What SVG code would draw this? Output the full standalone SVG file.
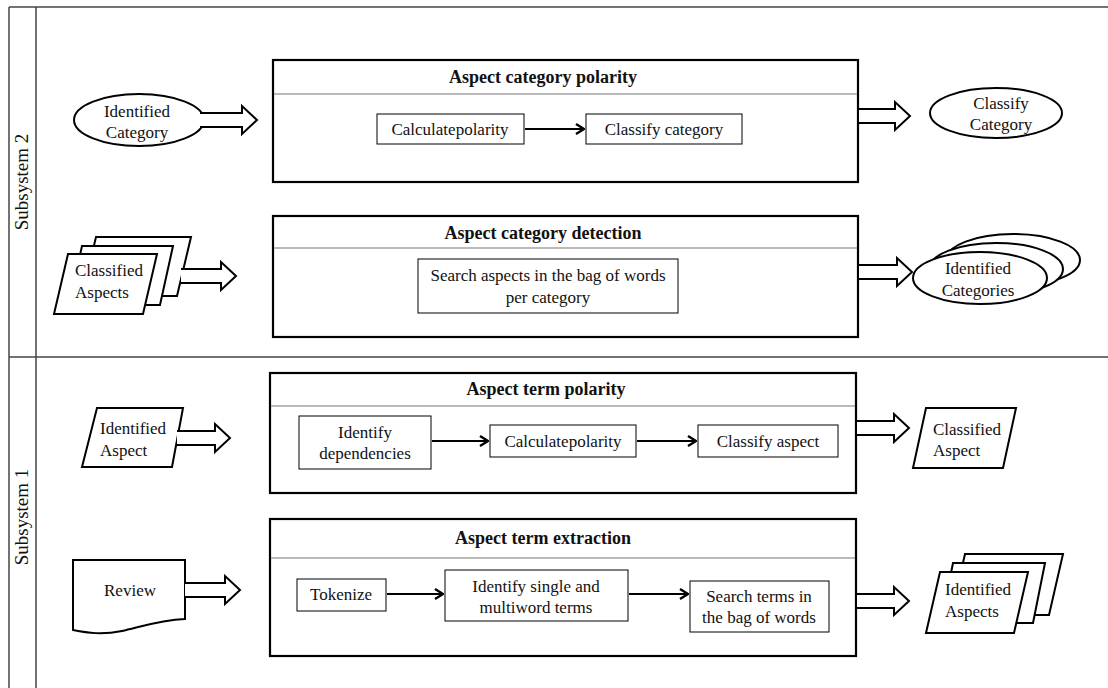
<svg xmlns="http://www.w3.org/2000/svg" width="1108" height="688" viewBox="0 0 1108 688">
<defs>
<style>
.frame{stroke:#444;stroke-width:1.5;fill:none}
.box{fill:#fff;stroke:#000;stroke-width:2.2}
.div{stroke:#777;stroke-width:1.2}
.inner{fill:#fff;stroke:#000;stroke-width:1}
.shape{fill:#fff;stroke:#000;stroke-width:2}
.blk{fill:#fff;stroke:#000;stroke-width:2;stroke-linejoin:miter}
.arr{stroke:#000;stroke-width:2.2;fill:none}
text{font-family:"Liberation Serif","Times New Roman",serif;fill:#111}
.t{font-size:17px;text-anchor:middle}
.ts{font-size:17px}
.h{font-size:18px;font-weight:bold;text-anchor:middle}
.lab{font-size:19px;text-anchor:middle}
</style>
<marker id="ah" viewBox="0 0 12 12" refX="11" refY="6" markerWidth="12" markerHeight="12" markerUnits="userSpaceOnUse" orient="auto">
<path d="M3,1 L11,6 L3,11" fill="none" stroke="#000" stroke-width="2.4"/>
</marker>
</defs>
<g id="frame">
<line class="frame" x1="9" y1="7" x2="1108" y2="7"/>
<line class="frame" x1="9" y1="7" x2="9" y2="688"/>
<line class="frame" x1="36" y1="7" x2="36" y2="688"/>
<line class="frame" x1="9" y1="357" x2="1108" y2="357"/>
<text class="lab" transform="translate(28,182) rotate(-90)">Subsystem 2</text>
<text class="lab" transform="translate(28,517) rotate(-90)">Subsystem 1</text>
</g>
<g id="acp">
<rect class="box" x="273" y="60" width="585" height="122"/>
<line class="div" x1="274" y1="94" x2="857" y2="94"/>
<text class="h" x="543" y="83">Aspect category polarity</text>
<rect class="inner" x="377" y="114" width="147" height="30"/>
<text class="t" x="450" y="135">Calculatepolarity</text>
<rect class="inner" x="586" y="114" width="156" height="30"/>
<text class="t" x="664" y="135">Classify category</text>
</g>
<g id="acd">
<rect class="box" x="273" y="216" width="585" height="121"/>
<line class="div" x1="274" y1="248" x2="857" y2="248"/>
<text class="h" x="543" y="239">Aspect category detection</text>
<rect class="inner" x="418" y="259" width="260" height="54"/>
<text class="t" x="548" y="281">Search aspects in the bag of words</text>
<text class="t" x="548" y="303">per category</text>
</g>
<g id="atp">
<rect class="box" x="270" y="373" width="586" height="120"/>
<line class="div" x1="271" y1="406" x2="855" y2="406"/>
<text class="h" x="546" y="395">Aspect term polarity</text>
<rect class="inner" x="299" y="416" width="132" height="53"/>
<text class="t" x="365" y="438">Identify</text>
<text class="t" x="365" y="459">dependencies</text>
<rect class="inner" x="490" y="425" width="146" height="32"/>
<text class="t" x="563" y="447">Calculatepolarity</text>
<rect class="inner" x="698" y="425" width="140" height="32"/>
<text class="t" x="768" y="447">Classify aspect</text>
</g>
<g id="ate">
<rect class="box" x="270" y="519" width="586" height="137"/>
<line class="div" x1="271" y1="558" x2="855" y2="558"/>
<text class="h" x="543" y="544">Aspect term extraction</text>
<rect class="inner" x="297" y="579" width="89" height="32"/>
<text class="t" x="341" y="600">Tokenize</text>
<rect class="inner" x="445" y="570" width="183" height="51"/>
<text class="t" x="536" y="592">Identify single and</text>
<text class="t" x="536" y="613">multiword terms</text>
<rect class="inner" x="690" y="581" width="139" height="51"/>
<text class="t" x="759" y="602">Search terms in</text>
<text class="t" x="759" y="623">the bag of words</text>
</g>
<g id="identified-category">
<ellipse class="shape" cx="139" cy="120" rx="65" ry="26"/>
<text class="t" x="137" y="117">Identified</text>
<text class="t" x="137" y="138">Category</text>
</g>
<g id="classified-aspects">
<polygon class="shape" points="96,237 191,237 177,296 82,296"/>
<polygon class="shape" points="82,246 173,246 160,305 69,305"/>
<polygon class="shape" points="68,254 157,254 143,314 54,314"/>
<text class="ts" x="75" y="276">Classified</text>
<text class="ts" x="75" y="298">Aspects</text>
</g>
<g id="identified-aspect">
<polygon class="shape" points="97,408 183,408 172,467 82,467"/>
<text class="ts" x="100" y="434">Identified</text>
<text class="ts" x="100" y="456">Aspect</text>
</g>
<g id="review">
<path class="shape" d="M73,560 H185 V619 C160,620 140,627 122,631 C102,635 88,633 73,630 Z"/>
<text class="t" x="130" y="596">Review</text>
</g>
<g id="classify-category">
<ellipse class="shape" cx="996" cy="113" rx="66" ry="25"/>
<text class="t" x="1001" y="109">Classify</text>
<text class="t" x="1001" y="130">Category</text>
</g>
<g id="identified-categories">
<ellipse class="shape" cx="1013" cy="260" rx="67" ry="26"/>
<ellipse class="shape" cx="996" cy="269" rx="67" ry="26"/>
<ellipse class="shape" cx="980" cy="278" rx="67" ry="26"/>
<text class="t" x="978" y="274">Identified</text>
<text class="t" x="978" y="296">Categories</text>
</g>
<g id="classified-aspect">
<polygon class="shape" points="926,408 1016,408 1003,468 913,468"/>
<text class="ts" x="933" y="435">Classified</text>
<text class="ts" x="933" y="456">Aspect</text>
</g>
<g id="identified-aspects">
<polygon class="shape" points="965,554 1063,554 1049,615 951,615"/>
<polygon class="shape" points="953,563 1045,563 1033,623 941,623"/>
<polygon class="shape" points="940,572 1028,572 1014,633 926,633"/>
<text class="ts" x="945" y="595">Identified</text>
<text class="ts" x="945" y="617">Aspects</text>
</g>
<g id="connectors">
<path class="blk" d="M200,113 H242 V106 L257,120 L242,134 V127 H200"/>
<path class="blk" d="M181,269 H221 V262 L236,276 L221,290 V283 H181"/>
<path class="blk" d="M859,109 H895 V102 L910,116 L895,130 V123 H859"/>
<path class="blk" d="M859,265 H897 V258 L912,272 L897,286 V279 H859"/>
<path class="blk" d="M177,431 H215 V424 L230,438 L215,452 V445 H177"/>
<path class="blk" d="M185,583 H225 V576 L240,590 L225,604 V597 H185"/>
<path class="blk" d="M857,421 H894 V414 L909,428 L894,442 V435 H857"/>
<path class="blk" d="M857,594 H894 V587 L909,601 L894,615 V608 H857"/>
<line class="arr" x1="525" y1="129" x2="584" y2="129" marker-end="url(#ah)"/>
<line class="arr" x1="432" y1="441" x2="488" y2="441" marker-end="url(#ah)"/>
<line class="arr" x1="637" y1="441" x2="696" y2="441" marker-end="url(#ah)"/>
<line class="arr" x1="387" y1="594" x2="443" y2="594" marker-end="url(#ah)"/>
<line class="arr" x1="629" y1="594" x2="688" y2="594" marker-end="url(#ah)"/>
</g>
</svg>
